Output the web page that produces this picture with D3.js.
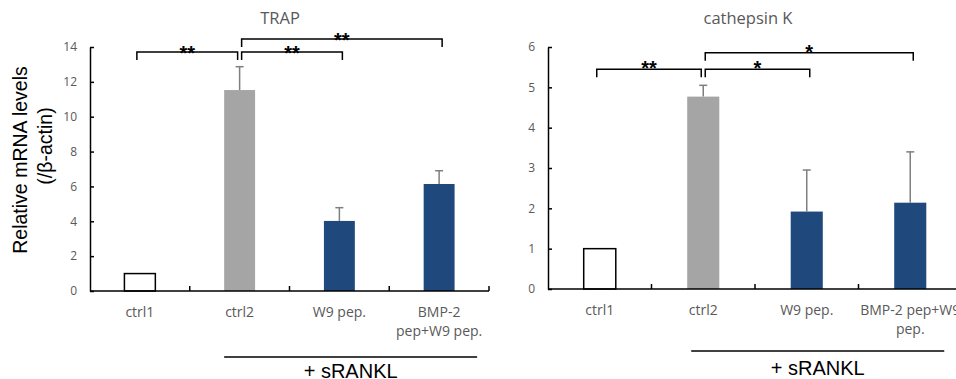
<!DOCTYPE html>
<html>
<head>
<meta charset="utf-8">
<script src="https://cdn.jsdelivr.net/npm/d3@7"></script>
<style>
  html, body { margin: 0; padding: 0; background: #fff; }
  svg { display: block; }
</style>
</head>
<body>
<svg id="chart" width="956" height="379"></svg>
<script>
// ---------------- DATA ----------------
const categories = ["ctrl1", "ctrl2", "W9 pep.", "BMP-2 pep+W9 pep."];
const trapLabels = [["ctrl1"], ["ctrl2"], ["W9 pep."], ["BMP-2", "pep+W9 pep."]];
const ctskLabels = [["ctrl1"], ["ctrl2"], ["W9 pep."], ["BMP-2 pep+W9", "pep."]];

const trapValues = [1.00, 11.53, 4.02, 6.14];
const trapErrors = [0, 1.34, 0.76, 0.76];
const ctskValues = [1.00, 4.77, 1.92, 2.14];
const ctskErrors = [0, 0.28, 1.03, 1.26];

const trapTicks = [0, 2, 4, 6, 8, 10, 12, 14];
const ctskTicks = [0, 1, 2, 3, 4, 5, 6];

// significance brackets: from category index a to b, at value level
const trapBrackets = [
  { a: 0, b: 1, level: 13.71, label: "**" },
  { a: 1, b: 2, level: 13.71, label: "**" },
  { a: 1, b: 3, level: 14.46, label: "**" }
];
const ctskBrackets = [
  { a: 0, b: 1, level: 5.45, label: "**" },
  { a: 1, b: 2, level: 5.45, label: "*" },
  { a: 1, b: 3, level: 5.86, label: "*" }
];

const titles = ["TRAP", "cathepsin K"];
const yTitle = ["Relative mRNA levels", "(/β-actin)"];
const groupLabel = "+ sRANKL";

// ---------------- STYLE ----------------
const barFill = ["#ffffff", "#a5a5a5", "#1f497d", "#1f497d"];
const barStroke = ["#000000", "none", "none", "none"];
const gray = "#595959";
const tickFont = "'Open Sans', 'Noto Sans', sans-serif";
const bigFont = "'Liberation Sans', Arial, sans-serif";

const svg = d3.select("#chart");

function drawChart(cfg) {
  const g = svg.append("g");
  const x = d3.scaleBand()
    .domain(categories)
    .range([cfg.x0, cfg.x1])
    .paddingInner(0.69)
    .paddingOuter(0.345);
  const step = x.step();
  const y = d3.scaleLinear().domain(cfg.domain).range([cfg.yBottom, cfg.yTop]);
  const cx = i => x(categories[i]) + x.bandwidth() / 2;

  // title
  g.append("text")
    .attr("x", cfg.titleX).attr("y", 24)
    .attr("text-anchor", "middle")
    .attr("font-family", tickFont).attr("font-size", 16.5)
    .attr("fill", gray)
    .text(cfg.title);

  // bars
  g.selectAll("rect.bar").data(cfg.values).enter().append("rect")
    .attr("class", "bar")
    .attr("x", (d, i) => x(categories[i]))
    .attr("width", x.bandwidth())
    .attr("y", d => y(d))
    .attr("height", d => y(0) - y(d))
    .attr("fill", (d, i) => barFill[i])
    .attr("stroke", (d, i) => barStroke[i])
    .attr("stroke-width", 1.5);

  // error bars
  cfg.values.forEach((v, i) => {
    const e = cfg.errors[i];
    if (!e) return;
    const xx = cx(i);
    g.append("line")
      .attr("x1", xx).attr("x2", xx)
      .attr("y1", y(v)).attr("y2", y(v + e))
      .attr("stroke", "#7f7f7f").attr("stroke-width", 1.5);
    g.append("line")
      .attr("x1", xx - 4).attr("x2", xx + 4)
      .attr("y1", y(v + e)).attr("y2", y(v + e))
      .attr("stroke", "#7f7f7f").attr("stroke-width", 1.5);
  });

  // y axis
  const yAxis = d3.axisLeft(y)
    .tickValues(cfg.ticks)
    .tickFormat(d3.format("d"))
    .tickSizeInner(-4)
    .tickSizeOuter(0)
    .tickPadding(13);
  const ya = g.append("g")
    .attr("transform", `translate(${cfg.x0},0)`)
    .call(yAxis);
  ya.select(".domain").attr("stroke", "#000").attr("stroke-width", 1.5);
  ya.selectAll(".tick line").attr("stroke", "#000").attr("stroke-width", 1.5);
  ya.selectAll(".tick text")
    .attr("font-family", tickFont).attr("font-size", 12).attr("fill", gray);

  // x axis line and boundary ticks
  g.append("line")
    .attr("x1", cfg.x0).attr("x2", cfg.x1)
    .attr("y1", y(0)).attr("y2", y(0))
    .attr("stroke", "#000").attr("stroke-width", 1.5);
  categories.forEach((c, i) => {
    const bx = x(c) + x.bandwidth() + (step - x.bandwidth()) / 2;
    g.append("line")
      .attr("x1", bx).attr("x2", bx)
      .attr("y1", y(0)).attr("y2", y(0) - 5)
      .attr("stroke", "#000").attr("stroke-width", 1.5);
  });

  // x labels
  cfg.labels.forEach((lines, i) => {
    const t = g.append("text")
      .attr("text-anchor", "middle")
      .attr("font-family", tickFont).attr("font-size", 14)
      .attr("fill", gray);
    lines.forEach((ln, k) => {
      t.append("tspan")
        .attr("x", cx(i))
        .attr("y", cfg.labelY + k * 18.5)
        .text(ln);
    });
  });

  // brackets
  cfg.brackets.forEach(b => {
    const xa = cx(b.a) + (b.a === 1 ? 2 : -3);
    const xb = cx(b.b) + (b.b === 1 ? -2 : 3);
    const yy = y(b.level);
    g.append("path")
      .attr("d", `M${xa},${yy + 8}V${yy}H${xb}V${yy + 8}`)
      .attr("fill", "none").attr("stroke", "#000").attr("stroke-width", 1.5);
    g.append("text")
      .attr("x", (xa + xb) / 2).attr("y", yy + cfg.starDy)
      .attr("text-anchor", "middle")
      .attr("font-family", bigFont).attr("font-weight", "bold")
      .attr("font-size", 20).attr("fill", "#000")
      .text(b.label);
  });

  // + sRANKL group
  const gx1 = x(categories[1]) + cfg.groupPad0;
  const gx2 = cx(3) + cfg.groupPad1;
  g.append("line")
    .attr("x1", gx1).attr("x2", gx2)
    .attr("y1", cfg.groupY).attr("y2", cfg.groupY)
    .attr("stroke", "#000").attr("stroke-width", 1.5);
  g.append("text")
    .attr("x", (gx1 + gx2) / 2).attr("y", cfg.groupY + cfg.groupTextDy)
    .attr("text-anchor", "middle")
    .attr("font-family", bigFont).attr("font-size", 20).attr("fill", "#000")
    .text(groupLabel);
}

drawChart({
  title: titles[0], titleX: 280,
  x0: 90, x1: 489, yBottom: 291, yTop: 47, domain: [0, 14],
  values: trapValues, errors: trapErrors, ticks: trapTicks,
  labels: trapLabels, labelY: 317, brackets: trapBrackets, starDy: 8,
  groupY: 357, groupPad0: 0, groupPad1: 38, groupTextDy: 21
});

drawChart({
  title: titles[1], titleX: 748,
  x0: 548, x1: 962, yBottom: 289, yTop: 47, domain: [0, 6],
  values: ctskValues, errors: ctskErrors, ticks: ctskTicks,
  labels: ctskLabels, labelY: 315, brackets: ctskBrackets, starDy: 6,
  groupY: 351, groupPad0: 4, groupPad1: 34, groupTextDy: 24
});

// y axis title (left chart only)
const yt = svg.append("g");
yt.append("text")
  .attr("transform", "translate(27,160) rotate(-90)")
  .attr("text-anchor", "middle")
  .attr("font-family", bigFont).attr("font-size", 19.5).attr("fill", "#000")
  .text(yTitle[0]);
yt.append("text")
  .attr("transform", "translate(52,146) rotate(-90)")
  .attr("text-anchor", "middle")
  .attr("font-family", bigFont).attr("font-size", 19.5).attr("fill", "#000")
  .text(yTitle[1]);
</script>
</body>
</html>
